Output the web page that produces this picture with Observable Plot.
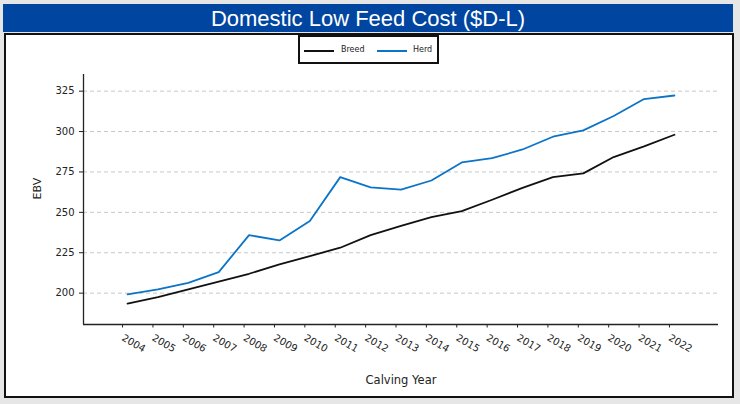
<!DOCTYPE html>
<html>
<head>
<meta charset="utf-8">
<script src="https://cdn.jsdelivr.net/npm/d3@7"></script>
<script src="https://cdn.jsdelivr.net/npm/@observablehq/plot@0.6"></script>
<style>
  html, body { margin: 0; padding: 0; background: #e6e6e6; }
  #wrap { position: relative; width: 740px; height: 404px; background: #e6e6e6; overflow: hidden; font-family: "DejaVu Sans", sans-serif; }
  #title { position: absolute; left: 3px; top: 4px; width: 730px; height: 28px; background: #0045a0; color: #fff;
           font-family: "Liberation Sans", Arial, sans-serif; font-size: 22px; line-height: 29px; text-align: center; }
  #panel { position: absolute; left: 4px; top: 33px; width: 726px; height: 361px; background: #fff; border: 2px solid #111; }
  #legend { position: absolute; left: 298px; top: 35px; width: 137px; height: 25px; border: 2px solid #111; background: #fff;
            font-family: "DejaVu Sans", sans-serif; font-size: 8px; color: #222; }
  #legend .sw { position: absolute; top: 13px; height: 2px; width: 30px; }
  #legend .lb { position: absolute; top: 8px; }
  #chart { position: absolute; left: 0; top: 66px; }
</style>
</head>
<body>
<div id="wrap">
  <div id="title">Domestic Low Feed Cost ($D-L)</div>
  <div id="panel"></div>
  <div id="legend">
    <div class="sw" style="left:4px;background:#111"></div><div class="lb" style="left:41px">Breed</div>
    <div class="sw" style="left:77px;background:#0b74c8"></div><div class="lb" style="left:113px">Herd</div>
  </div>
  <div id="chart"></div>
</div>
<script>
const years = [2004,2005,2006,2007,2008,2009,2010,2011,2012,2013,2014,2015,2016,2017,2018,2019,2020,2021,2022];
const breed = [193.5,197.5,202.3,207.2,212.0,217.8,222.9,228.1,235.9,241.6,247.0,250.8,257.8,265.1,271.8,274.1,284.2,290.8,298.0];
const herd  = [199.2,202.3,206.4,213.0,235.9,232.6,244.6,271.8,265.4,264.0,269.7,280.9,283.5,288.9,296.8,300.7,309.6,320.1,322.3];
const yTicks = [200,225,250,275,300,325];
const seriesNames = ["Breed","Herd"];
const seriesColors = ["#111111","#0b74c8"];

const data = [];
years.forEach((yr,i) => {
  data.push({year: yr, value: breed[i], series: "Breed"});
  data.push({year: yr, value: herd[i], series: "Herd"});
});

const chart = Plot.plot({
  width: 740,
  height: 330,
  marginLeft: 83,
  marginRight: 22,
  marginTop: 8,
  marginBottom: 72,
  style: {fontFamily: "DejaVu Sans, sans-serif", fontSize: "10px", color: "#222", background: "transparent", overflow: "visible"},
  x: {type: "linear", domain: [2002.55, 2023.45]},
  y: {domain: [180.6, 335.3]},
  color: {domain: seriesNames, range: seriesColors},
  marks: [
    Plot.ruleY(yTicks, {x1: 2002.55, x2: 2023.45, stroke: "#c8c8c8", strokeDasharray: "4,3", strokeWidth: 1}),
    Plot.axisY({ticks: yTicks, tickSize: 4, tickPadding: 5, label: null, fontSize: 10}),
    Plot.axisX({ticks: years, tickSize: 3.5, tickRotate: 30, tickPadding: 9, dx: -5, tickFormat: d => String(d), label: null, fontSize: 10}),
    Plot.ruleX([2002.55], {stroke: "#222", strokeWidth: 1.3}),
    Plot.ruleY([180.6], {stroke: "#222", strokeWidth: 1.3}),
    Plot.line(data, {x: "year", y: "value", stroke: "series", z: "series", strokeWidth: 1.8}),
    Plot.text(["EBV"], {frameAnchor: "left", dx: -46, rotate: -90, fontSize: 11, fill: "#222"}),
    Plot.text(["Calving Year"], {frameAnchor: "bottom", dy: 59, fontSize: 11.5, fill: "#222"})
  ]
});
document.getElementById("chart").appendChild(chart);
</script>
</body>
</html>
